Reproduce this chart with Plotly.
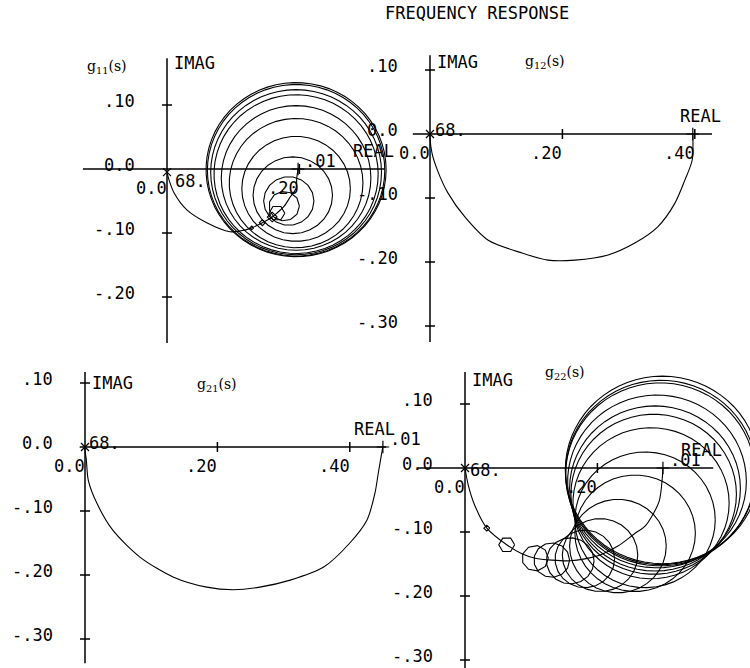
import numpy as np
import plotly.graph_objects as go

# ---------------- values ----------------
TITLE = "FREQUENCY RESPONSE"
NAMES = ["g<sub>11</sub>(s)", "g<sub>12</sub>(s)", "g<sub>21</sub>(s)", "g<sub>22</sub>(s)"]
W_LOW, W_HIGH = ".01", "68."

# Nyquist loci (real, imag), from w = .01 to w = 68.
g11_re = [0.198, 0.196, 0.195, 0.186, 0.177, 0.166, 0.159, 0.144, 0.128, 0.110, 0.095, 0.060, 0.030, 0.011, 0.003, 0.000]
g11_im = [0.000, -0.014, -0.030, -0.044, -0.058, -0.069, -0.075, -0.084, -0.092, -0.097, -0.098, -0.084, -0.064, -0.038, -0.017, -0.005]

g12_re = [0.397, 0.396, 0.385, 0.370, 0.344, 0.310, 0.269, 0.219, 0.178, 0.139, 0.088, 0.053, 0.027, 0.011, 0.003, 0.000, 0.000]
g12_im = [0.000, -0.041, -0.072, -0.108, -0.145, -0.170, -0.189, -0.197, -0.197, -0.186, -0.166, -0.130, -0.092, -0.056, -0.030, -0.005, 0.000]

g21_re = [0.450, 0.449, 0.443, 0.438, 0.426, 0.400, 0.360, 0.310, 0.264, 0.224, 0.184, 0.133, 0.083, 0.042, 0.018, 0.005, 0.002, 0.000, 0.000]
g21_im = [0.000, -0.005, -0.041, -0.072, -0.114, -0.150, -0.188, -0.208, -0.219, -0.223, -0.219, -0.203, -0.172, -0.130, -0.088, -0.052, -0.020, -0.005, 0.000]

g22_re = [0.299, 0.298, 0.293, 0.272, 0.257, 0.231, 0.204, 0.181, 0.159, 0.131, 0.106, 0.086, 0.063, 0.033, 0.015, 0.005, 0.000]
g22_im = [0.000, -0.016, -0.053, -0.091, -0.102, -0.122, -0.136, -0.142, -0.145, -0.144, -0.141, -0.134, -0.120, -0.094, -0.059, -0.027, 0.000]

# Gershgorin circles (centre real, centre imag, radius)
g11_c_re = [0.195, 0.195, 0.195, 0.195, 0.195, 0.195, 0.195, 0.190, 0.184, 0.177, 0.166, 0.159, 0.144, 0.128]
g11_c_im = [-0.001, -0.002, -0.005, -0.008, -0.014, -0.022, -0.031, -0.041, -0.050, -0.058, -0.069, -0.075, -0.084, -0.092]
g11_c_r = [0.136, 0.134, 0.129, 0.124, 0.113, 0.101, 0.082, 0.060, 0.038, 0.023, 0.012, 0.0075, 0.0045, 0.003]

g22_c_re = [0.298, 0.296, 0.295, 0.290, 0.287, 0.285, 0.281, 0.272, 0.257, 0.231, 0.204, 0.181, 0.159, 0.131, 0.106, 0.063, 0.033]
g22_c_im = [-0.003, -0.007, -0.010, -0.021, -0.032, -0.041, -0.055, -0.081, -0.102, -0.122, -0.136, -0.142, -0.145, -0.144, -0.141, -0.120, -0.094]
g22_c_r = [0.1465, 0.144, 0.143, 0.135, 0.129, 0.125, 0.118, 0.106, 0.091, 0.073, 0.057, 0.045, 0.036, 0.027, 0.020, 0.012, 0.0045]

# axis extents and ticks of each panel
x_ext = [(-0.127, 0.329), (-0.026, 0.426), (-0.008, 0.455), (-0.071, 0.375)]
y_ext = [(-0.272, 0.173), (-0.325, 0.123), (-0.338, 0.117), (-0.320, 0.150)]
x_ticks = [[0.0, 0.2], [0.0, 0.2, 0.4], [0.0, 0.2, 0.4], [0.0, 0.2]]
x_tick_text = [["0.0", ".20"], ["0.0", ".20", ".40"], ["0.0", ".20", ".40"], ["0.0", ".20"]]
y_ticks = [[0.1, 0.0, -0.1, -0.2], [0.1, 0.0, -0.1, -0.2, -0.3], [0.1, 0.0, -0.1, -0.2, -0.3], [0.1, 0.0, -0.1, -0.2, -0.3]]
y_tick_text = [[".10", "0.0", "-.10", "-.20"], [".10", "0.0", "-.10", "-.20", "-.30"],
               [".10", "0.0", "-.10", "-.20", "-.30"], [".10", "0.0", "-.10", "-.20", "-.30"]]

# ---------------- layout of the sheet ----------------
W, H = 750, 668
SX, SY = 662.0, 640.0                     # pixels per unit
ORIGIN = [(167, 169), (430, 134), (85, 447), (465, 468)]   # pixel position of 0+0j in each panel
NAME_POS = [(-0.124, 0.159), (0.140, 0.1125), (0.166, 0.097), (0.118, 0.148)]
IMAG_DY = [-5, -7, -11, -8]
HIGH_SHIFT = [(6, -9), (3, 4), (2, 4), (3, -2)]
SHOW_LOW = [True, False, True, True]

FONT = dict(family="DejaVu Sans Mono", size=17, color="black")
SERIF = dict(family="DejaVu Serif", size=14, color="black")

loci = [(g11_re, g11_im), (g12_re, g12_im), (g21_re, g21_im), (g22_re, g22_im)]
circles = [(g11_c_re, g11_c_im, g11_c_r), None, None, (g22_c_re, g22_c_im, g22_c_r)]


def circle_path(cre, cim, rad):
    xs, ys = [], []
    for a, b, r in zip(cre, cim, rad):
        n = int(np.clip(round(0.7 * r * SX), 4, 72))
        t = np.linspace(0, 2 * np.pi, n + 1)
        xs += list(a + r * np.cos(t)) + [None]
        ys += list(b + r * np.sin(t)) + [None]
    return xs, ys


fig = go.Figure()
annotations = []
layout = {}
tx, ty = 5.0 / SX, 5.0 / SY

for k in range(4):
    sfx = "" if k == 0 else str(k + 1)
    xa, ya = "x" + sfx, "y" + sfx
    ox, oy = ORIGIN[k]
    layout["xaxis" + sfx] = dict(domain=[0, 1], range=[-ox / SX, (W - ox) / SX], visible=False,
                                 fixedrange=True, anchor=ya)
    layout["yaxis" + sfx] = dict(domain=[0, 1], range=[-(H - oy) / SY, oy / SY], visible=False,
                                 fixedrange=True, anchor=xa)

    # axes drawn as plotter crosses
    ax_x = [x_ext[k][0], x_ext[k][1], None, 0, 0, None]
    ax_y = [0, 0, None, y_ext[k][0], y_ext[k][1], None]
    for t in x_ticks[k]:
        if t != 0:
            ax_x += [t, t, None]
            ax_y += [-ty, ty, None]
    for t in y_ticks[k]:
        if t != 0:
            ax_x += [-tx, tx, None]
            ax_y += [t, t, None]
    fig.add_trace(go.Scatter(x=ax_x, y=ax_y, mode="lines", line=dict(color="black", width=1.5),
                             xaxis=xa, yaxis=ya, hoverinfo="skip", showlegend=False))

    # Gershgorin circles
    if circles[k] is not None:
        cx, cy = circle_path(*circles[k])
        fig.add_trace(go.Scatter(x=cx, y=cy, mode="lines", line=dict(color="black", width=1.1),
                                 xaxis=xa, yaxis=ya, hoverinfo="skip", showlegend=False))

    # Nyquist locus
    re, im = loci[k]
    fig.add_trace(go.Scatter(x=re, y=im, mode="lines", line=dict(color="black", width=1.1, shape="spline",
                                                                  smoothing=0.8),
                             xaxis=xa, yaxis=ya, hoverinfo="skip", showlegend=False))
    fig.add_trace(go.Scatter(x=[re[0]], y=[im[0]], mode="markers",
                             marker=dict(symbol="cross-thin", size=9, line=dict(color="black", width=1.2)),
                             xaxis=xa, yaxis=ya, hoverinfo="skip", showlegend=False))
    fig.add_trace(go.Scatter(x=[re[-1]], y=[im[-1]], mode="markers",
                             marker=dict(symbol="x-thin", size=8, line=dict(color="black", width=1.2)),
                             xaxis=xa, yaxis=ya, hoverinfo="skip", showlegend=False))

    # tick labels
    for t, s in zip(x_ticks[k], x_tick_text[k]):
        annotations.append(dict(x=t, y=0, xref=xa, yref=ya, text=s, showarrow=False, font=FONT,
                                xanchor="right", yanchor="middle", xshift=2, yshift=-19))
    for t, s in zip(y_ticks[k], y_tick_text[k]):
        annotations.append(dict(x=0, y=t, xref=xa, yref=ya, text=s, showarrow=False, font=FONT,
                                xanchor="right", yanchor="middle", xshift=-30, yshift=4))
    # axis names
    annotations.append(dict(x=0, y=y_ext[k][1], xref=xa, yref=ya, text="IMAG", showarrow=False, font=FONT,
                            xanchor="left", yanchor="middle", xshift=5, yshift=IMAG_DY[k]))
    annotations.append(dict(x=x_ext[k][1], y=0, xref=xa, yref=ya, text="REAL", showarrow=False, font=FONT,
                            xanchor="right", yanchor="middle", xshift=11, yshift=18))
    # panel name
    annotations.append(dict(x=NAME_POS[k][0], y=NAME_POS[k][1], xref=xa, yref=ya, text=NAMES[k],
                            showarrow=False, font=SERIF, xanchor="left", yanchor="middle"))
    # frequency labels
    annotations.append(dict(x=re[-1], y=im[-1], xref=xa, yref=ya, text=W_HIGH, showarrow=False, font=FONT,
                            xanchor="left", yanchor="middle", xshift=HIGH_SHIFT[k][0], yshift=HIGH_SHIFT[k][1]))
    if SHOW_LOW[k]:
        annotations.append(dict(x=re[0], y=im[0], xref=xa, yref=ya, text=W_LOW, showarrow=False, font=FONT,
                                xanchor="left", yanchor="middle", xshift=5, yshift=8))

annotations.append(dict(x=383 / W, y=1 - 13 / H, xref="paper", yref="paper", text=TITLE, showarrow=False,
                        font=FONT, xanchor="left", yanchor="middle"))

fig.update_layout(width=W, height=H, margin=dict(l=0, r=0, t=0, b=0), autosize=False,
                  paper_bgcolor="white", plot_bgcolor="rgba(0,0,0,0)", showlegend=False,
                  annotations=annotations, **layout)

fig.write_html("out.html", config=dict(displayModeBar=False),
               post_script="document.body.style.margin='0';")
